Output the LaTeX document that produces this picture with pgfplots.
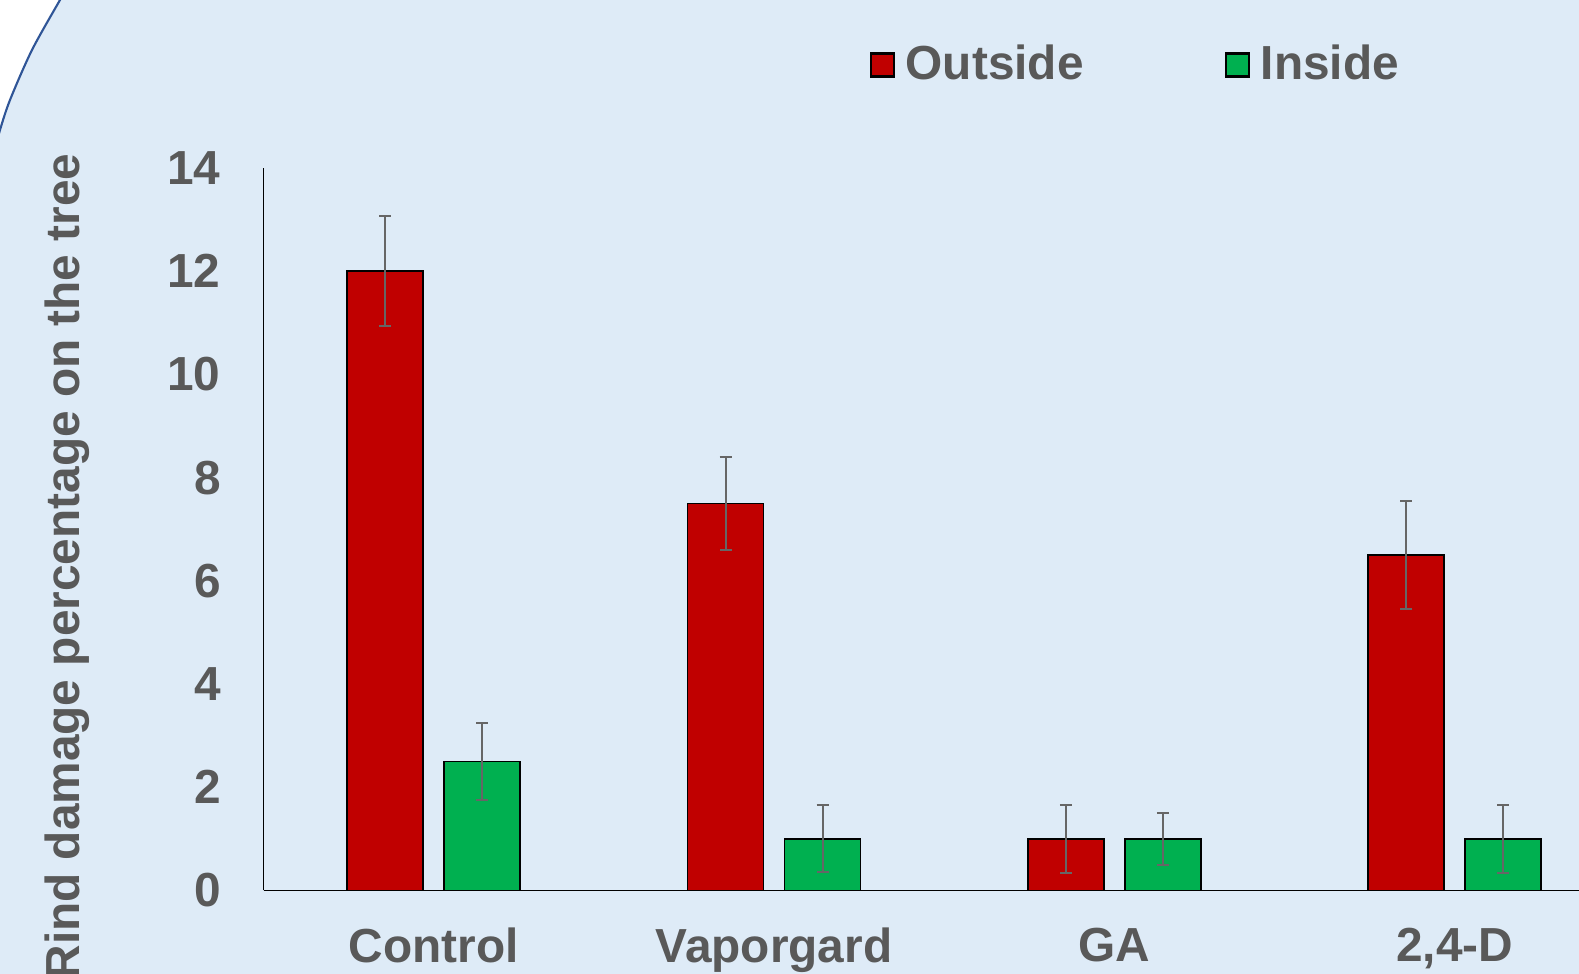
\documentclass[border=0pt]{standalone}
\usepackage{pgfplots}
\pgfplotsset{compat=1.18}
\usepackage{pgfplotstable}
\usepackage{fontspec}
\setmainfont{Liberation Sans}
\definecolor{bg}{HTML}{DEEBF7}
\definecolor{curve}{HTML}{2F5597}
\definecolor{txt}{HTML}{595959}
\definecolor{outred}{HTML}{C00000}
\definecolor{ingreen}{HTML}{00B050}
\definecolor{errc}{HTML}{666666}

\pgfplotstableread{
x y e
0 12.0 1.07
1 7.5 0.90
2 1.0 0.66
3 6.5 1.05
}\outside
\pgfplotstableread{
x y e
0 2.5 0.75
1 1.0 0.65
2 1.0 0.50
3 1.0 0.66
}\inside

\newcommand{\lblfont}{\fontsize{13.6}{16}\selectfont\bfseries}

\begin{document}
\begin{tikzpicture}
\path[use as bounding box] (0,0) rectangle (157.9mm,97.4mm);
\fill[bg] (0,0) rectangle (157.9mm,97.4mm);
\fill[white] plot[smooth] coordinates {(6.6mm,98.4mm) (6.0mm,97.4mm) (3.2mm,92.4mm) (1.0mm,87.4mm) (0mm,84.4mm) (-0.5mm,82.5mm)} -- (-1mm,98.4mm) -- cycle;
\draw[curve, line width=0.6pt] plot[smooth] coordinates {(6.6mm,98.4mm) (6.0mm,97.4mm) (3.2mm,92.4mm) (1.0mm,87.4mm) (0mm,84.4mm) (-0.5mm,82.5mm)};
\begin{axis}[
 at={(26.35mm,8.35mm)}, anchor=south west, scale only axis,
 width=136.15mm, height=72.25mm,
 xmin=-0.5, xmax=3.5, ymin=0, ymax=14,
 axis lines=left, axis line style={-, black, line width=0.5pt},
 ybar=2.1mm, bar width=7.6mm,
 xtick={0,1,2,3}, xticklabels={Control,Vaporgard,GA,{2,4-D}},
 ytick={0,2,...,14},
 major tick length=0pt,
 tick label style={font=\lblfont, text=txt},
 /pgf/number format/assume math mode=true,
 xticklabel style={yshift=-2.5mm},
 yticklabel style={xshift=-3.05mm},
 legend columns=2,
 legend image code/.code={\draw[#1, draw=black, line width=0.6pt] (0mm,-1.15mm) rectangle (2.3mm,1.15mm);
   \path[draw=none, fill=none] (0mm,0mm) -- (2.8mm,0mm);},
 legend style={at={(0.4447,1.1426)}, anchor=west, draw=none, fill=none, inner sep=0pt,
   font=\lblfont, text=txt,
   /tikz/every even column/.append style={column sep=13.4mm}},
]
\addplot[fill=outred, draw=black, line width=0.5pt,
  error bars/.cd, y dir=both, y explicit,
  error bar style={errc, line width=0.55pt},
  error mark options={errc, rotate=90, mark size=0.6mm, line width=0.55pt}]
  table[x=x, y=y, y error=e] {\outside};
\addplot[fill=ingreen, draw=black, line width=0.5pt,
  error bars/.cd, y dir=both, y explicit,
  error bar style={errc, line width=0.55pt},
  error mark options={errc, rotate=90, mark size=0.6mm, line width=0.55pt}]
  table[x=x, y=y, y error=e] {\inside};
\legend{Outside, Inside}
\end{axis}
\node[rotate=90, anchor=base, font=\lblfont, text=txt] at (8.0mm,40.75mm) {Rind damage percentage on the tree};
\end{tikzpicture}
\end{document}
